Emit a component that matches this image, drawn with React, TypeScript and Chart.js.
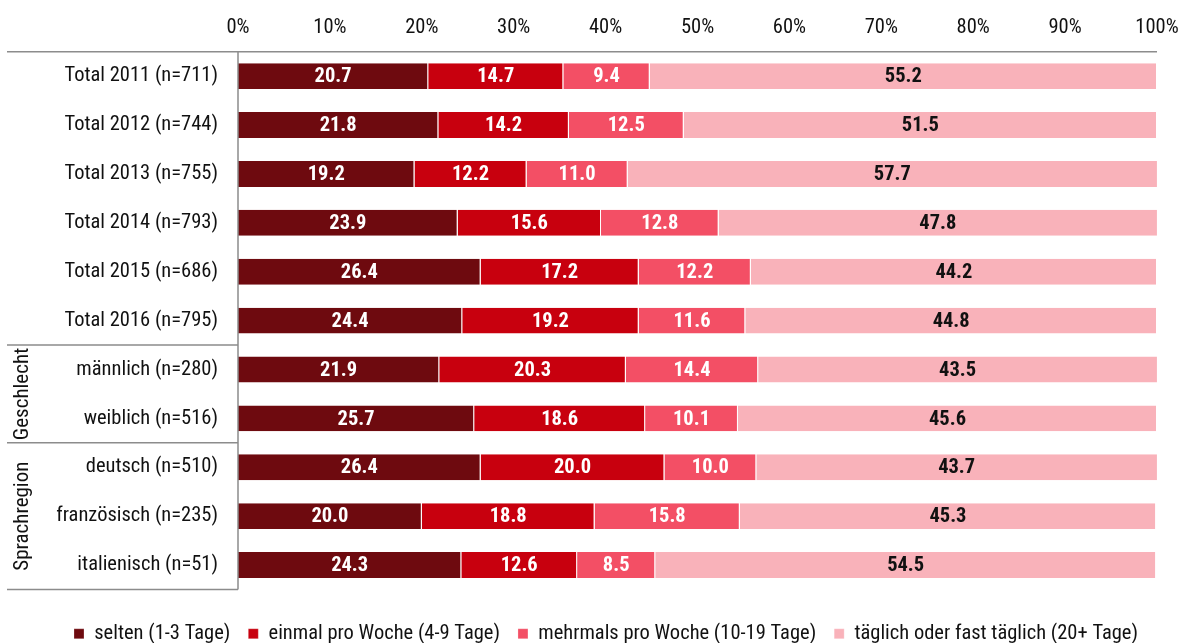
import React, { useEffect, useRef } from "react";
import { Chart, registerables } from "chart.js";

Chart.register(...registerables);

const categories = [
  "Total 2011 (n=711)",
  "Total 2012 (n=744)",
  "Total 2013 (n=755)",
  "Total 2014 (n=793)",
  "Total 2015 (n=686)",
  "Total 2016 (n=795)",
  "männlich (n=280)",
  "weiblich (n=516)",
  "deutsch (n=510)",
  "französisch (n=235)",
  "italienisch (n=51)",
];

const selten = [20.7, 21.8, 19.2, 23.9, 26.4, 24.4, 21.9, 25.7, 26.4, 20.0, 24.3];
const einmalProWoche = [14.7, 14.2, 12.2, 15.6, 17.2, 19.2, 20.3, 18.6, 20.0, 18.8, 12.6];
const mehrmalsProWoche = [9.4, 12.5, 11.0, 12.8, 12.2, 11.6, 14.4, 10.1, 10.0, 15.8, 8.5];
const taeglich = [55.2, 51.5, 57.7, 47.8, 44.2, 44.8, 43.5, 45.6, 43.7, 45.3, 54.5];

const seriesNames = [
  "selten (1-3 Tage)",
  "einmal pro Woche (4-9 Tage)",
  "mehrmals pro Woche (10-19 Tage)",
  "täglich oder fast täglich (20+ Tage)",
];
const seriesColors = ["#6E0A0F", "#C8000E", "#F34F65", "#F9B2BA"];
const labelColors = ["#FFFFFF", "#FFFFFF", "#FFFFFF", "#111111"];

const groupNames = ["Geschlecht", "Sprachregion"];
const groupFirst = [6, 8];
const groupLast = [7, 10];
const separatorsAfter = [5, 7];

const FONT = "'Roboto Condensed', 'Liberation Sans Narrow', 'Arial Narrow', sans-serif";
const LINE = "#8C8C8C";

const decorPlugin = {
  id: "decor",
  afterLayout(chart: any) {
    const lg = chart.legend;
    if (lg) {
      lg.left += 55;
    }
  },
  afterDatasetsDraw(chart: any) {
    const { ctx, chartArea } = chart;
    const y = chart.scales.y;
    ctx.save();
    // data labels
    ctx.font = `bold 20.5px ${FONT}`;
    ctx.textAlign = "center";
    ctx.textBaseline = "middle";
    chart.data.datasets.forEach((ds: any, i: number) => {
      const meta = chart.getDatasetMeta(i);
      meta.data.forEach((el: any, j: number) => {
        const p = el.getProps(["x", "base", "y"], true);
        const cx = (Math.min(p.x, chartArea.right) + p.base) / 2;
        ctx.fillStyle = labelColors[i];
        ctx.fillText(Number(ds.data[j]).toFixed(1), cx, p.y + 1);
      });
    });
    // lines
    ctx.strokeStyle = LINE;
    ctx.lineWidth = 1.5;
    ctx.beginPath();
    ctx.moveTo(7, chartArea.top);
    ctx.lineTo(chartArea.right, chartArea.top);
    ctx.moveTo(chartArea.left, chartArea.top);
    ctx.lineTo(chartArea.left, chartArea.bottom);
    ctx.moveTo(7, chartArea.bottom);
    ctx.lineTo(chartArea.left, chartArea.bottom);
    separatorsAfter.forEach((k) => {
      const sy = (y.getPixelForValue(k) + y.getPixelForValue(k + 1)) / 2;
      ctx.moveTo(7, sy);
      ctx.lineTo(chartArea.left, sy);
    });
    ctx.stroke();
    // group labels
    ctx.fillStyle = "#111111";
    ctx.font = `21px ${FONT}`;
    groupNames.forEach((name, g) => {
      const top = (y.getPixelForValue(groupFirst[g]) + y.getPixelForValue(groupFirst[g] - 1)) / 2;
      const bottom = g === groupNames.length - 1
        ? chartArea.bottom
        : (y.getPixelForValue(groupLast[g]) + y.getPixelForValue(groupLast[g] + 1)) / 2;
      const cy = (top + bottom) / 2;
      ctx.save();
      ctx.translate(23, cy);
      ctx.rotate(-Math.PI / 2);
      ctx.textAlign = "center";
      ctx.textBaseline = "middle";
      ctx.fillText(name, 0, 0);
      ctx.restore();
    });
    ctx.restore();
  },
};

export default function App() {
  const ref = useRef<HTMLCanvasElement | null>(null);
  useEffect(() => {
    if (!ref.current) return;
    const data = [selten, einmalProWoche, mehrmalsProWoche, taeglich];
    const chart = new Chart(ref.current, {
      type: "bar",
      data: {
        labels: categories,
        datasets: data.map((d, i) => ({
          label: seriesNames[i],
          data: d,
          backgroundColor: seriesColors[i],
          borderColor: "#FFFFFF",
          borderWidth: { left: 0, right: 1, top: 0, bottom: 0 },
          borderSkipped: false,
          barPercentage: 0.53,
          categoryPercentage: 1,
        })),
      },
      options: {
        indexAxis: "y",
        responsive: false,
        animation: false,
        maintainAspectRatio: false,
        layout: { padding: { left: 0, right: 27, top: 0, bottom: -11 } },
        scales: {
          x: {
            position: "top",
            stacked: true,
            min: 0,
            max: 100,
            grid: { display: false, drawTicks: false },
            border: { display: false },
            ticks: {
              stepSize: 10,
              padding: 12,
              color: "#111111",
              font: { family: FONT, size: 20.5 },
              callback: (v: any) => `${v}%`,
            },
            afterFit: (s: any) => {
              s.height = 51.7;
              s.paddingLeft = 0;
              s.paddingRight = 0;
            },
          },
          y: {
            stacked: true,
            grid: { display: false, drawTicks: false },
            border: { display: false },
            ticks: {
              padding: 20,
              color: "#111111",
              font: { family: FONT, size: 20.5 },
            },
            afterFit: (s: any) => {
              s.width = 238;
            },
          },
        },
        plugins: {
          tooltip: { enabled: false },
          legend: {
            position: "bottom",
            title: { display: true, text: " ", font: { size: 10 }, padding: 2 },
            labels: {
              boxWidth: 10,
              boxHeight: 10,
              padding: 18,
              color: "#111111",
              font: { family: FONT, size: 20.5 },
            },
          },
        },
      },
      plugins: [decorPlugin],
    } as any);
    return () => chart.destroy();
  }, []);
  return (
    <div style={{ position: "absolute", left: 0, top: 0, width: 1184, height: 643, background: "#fff" }}>
      <canvas ref={ref} width={1184} height={643} style={{ display: "block" }} />
    </div>
  );
}
